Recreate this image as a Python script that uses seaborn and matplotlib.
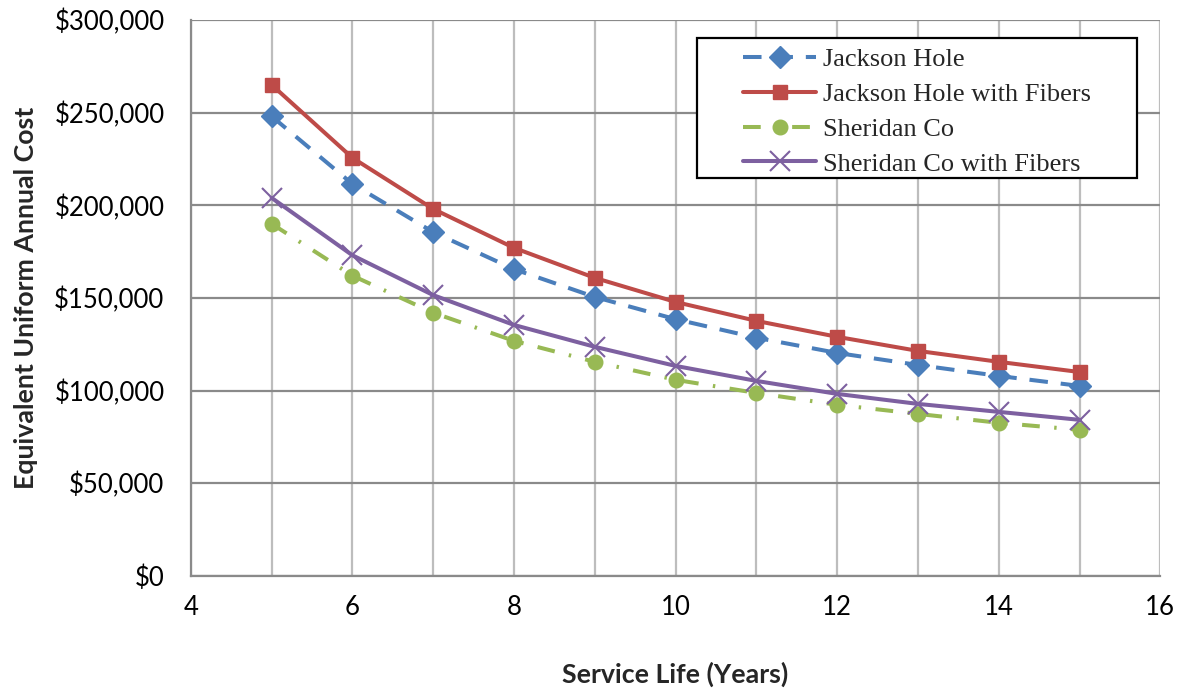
import numpy as np
import pandas as pd
import seaborn as sns
import matplotlib.pyplot as plt
from matplotlib.ticker import FuncFormatter, MultipleLocator
from matplotlib.patches import Rectangle

years = [5, 6, 7, 8, 9, 10, 11, 12, 13, 14, 15]
jackson = [248000, 211500, 185500, 165500, 150500, 138500, 128500, 120300, 113800, 107900, 102500]
jackson_fib = [265000, 225600, 198000, 177000, 160800, 147800, 137600, 129000, 121400, 115500, 110000]
sheridan = [190000, 162000, 142000, 126800, 115500, 105800, 98700, 92300, 87400, 82600, 78800]
sheridan_fib = [204000, 173000, 151500, 135400, 123600, 113300, 105200, 98200, 92800, 88500, 84200]

names = ["Jackson Hole", "Jackson Hole with Fibers", "Sheridan Co", "Sheridan Co with Fibers"]
series = [jackson, jackson_fib, sheridan, sheridan_fib]

df = pd.DataFrame({
    "Years": years * 4,
    "Cost": sum(series, []),
    "Site": np.repeat(names, len(years)),
})

sns.set_style("white")
plt.rcParams['font.family'] = ['Lato', 'DejaVu Sans']

fig = plt.figure(figsize=(11.78, 6.88), dpi=100)
ax = fig.add_axes([0.162, 0.163, 0.823, 0.808])

styles = {
    "Jackson Hole": dict(color="#4a7ebb", marker="D", ls=(0, (4.6, 3.2)), ms=11, mew=1.0),
    "Jackson Hole with Fibers": dict(color="#be4b48", marker="s", ls="-", ms=10.5, mew=1.0),
    "Sheridan Co": dict(color="#98b954", marker="o", ls=(0, (4.4, 3.6, 0.6, 3.6)), ms=10.5, mew=1.0),
    "Sheridan Co with Fibers": dict(color="#7d60a0", marker="x", ls="-", ms=14, mew=1.5),
}

for name in names:
    st = styles[name]
    sub = df[df["Site"] == name]
    sns.lineplot(data=sub, x="Years", y="Cost", ax=ax, color=st["color"],
                 marker=st["marker"], markersize=st["ms"], linestyle=st["ls"],
                 linewidth=2.9, markeredgecolor=st["color"], markeredgewidth=st["mew"],
                 label=name)

ax.set_xlim(4, 16)
ax.set_ylim(0, 300000)
ax.xaxis.set_major_locator(MultipleLocator(2))
ax.xaxis.set_minor_locator(MultipleLocator(1))
ax.yaxis.set_major_locator(MultipleLocator(50000))
ax.yaxis.set_major_formatter(FuncFormatter(lambda v, p: "${:,.0f}".format(v)))

ax.grid(True, which="both", axis="x", color="#bdbdbd", linewidth=1.6)
ax.grid(True, which="major", axis="y", color="#8a8a8a", linewidth=1.6)
ax.set_axisbelow(True)
for side in ["top", "right"]:
    ax.spines[side].set_visible(False)
for side in ["left", "bottom"]:
    ax.spines[side].set_color("#8a8a8a")
    ax.spines[side].set_linewidth(1.6)

ax.tick_params(axis="both", which="major", labelsize=18.5, direction="out",
               length=6, width=1.6, color="#8a8a8a", labelcolor="black")
ax.tick_params(axis="y", pad=13)
ax.tick_params(axis="x", pad=8)
ax.tick_params(axis="x", which="minor", length=0)

ax.set_xlabel("Service Life (Years)", fontsize=19.3, fontweight="bold", labelpad=30)
ax.set_ylabel("Equivalent Uniform Annual Cost", fontsize=19.3, fontweight="bold", labelpad=12)

# legend box drawn as a plain rectangle, entries placed inside it
ax.add_patch(Rectangle((0.522, 0.716), 0.454, 0.252, transform=ax.transAxes,
                       facecolor="white", edgecolor="black", linewidth=1.6, zorder=5))
leg = ax.legend(loc="upper left", bbox_to_anchor=(0.570, 0.950), frameon=False,
                prop={"family": "Liberation Serif", "size": 19},
                handlelength=2.75, handletextpad=0.25, borderpad=0, labelspacing=0.43,
                borderaxespad=0)
leg.set_zorder(6)

plt.savefig("out.png", dpi=100)
plt.close()
